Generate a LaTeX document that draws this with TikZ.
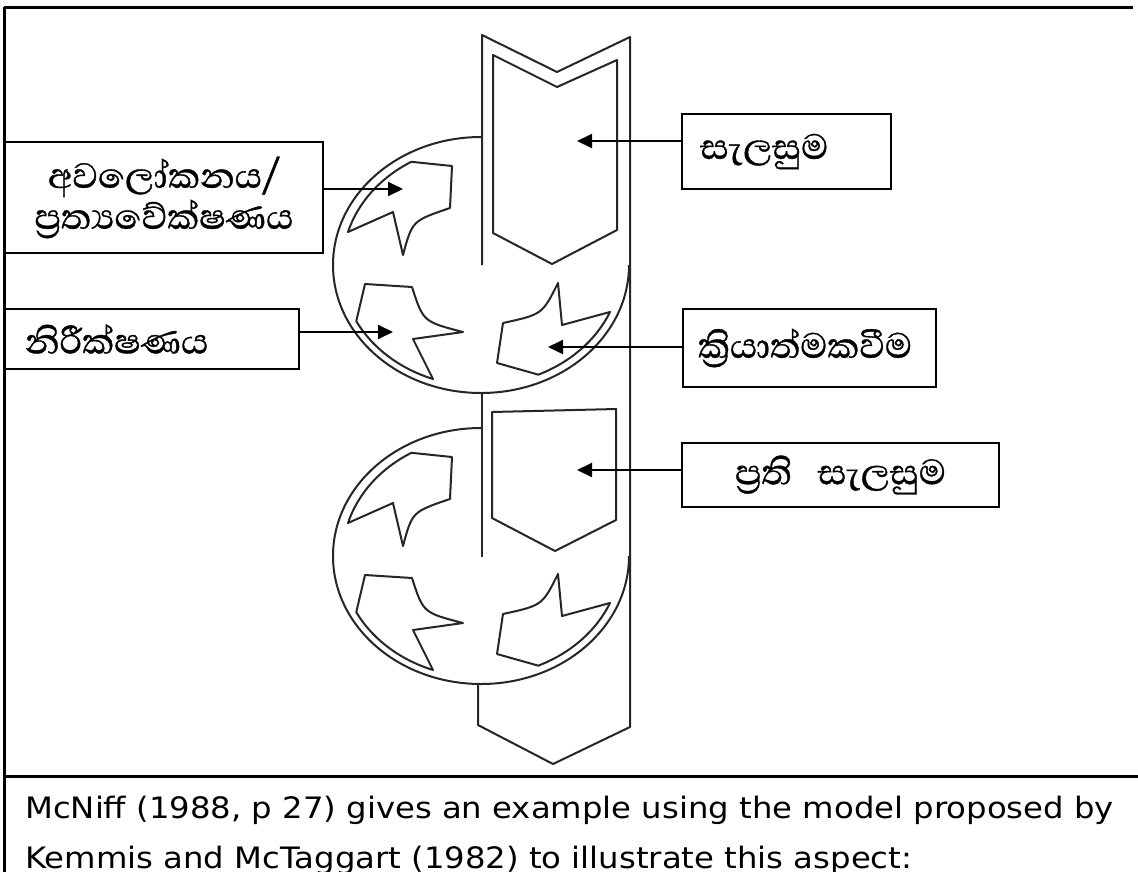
\documentclass[tikz,border=0pt]{standalone}
\usepackage{fontspec}
\setmainfont{DejaVu Sans}
\newfontfamily\sinhfont[Script=Sinhala, FakeBold=0.8]{Abhaya Libre}
\newfontfamily\capfont[FakeStretch=1.095]{DejaVu Sans}
\usetikzlibrary{arrows.meta,calc}
\begin{document}
\begin{tikzpicture}[x=1pt,y=-1pt,
  frameline/.style={line width=3pt, black},
  sketch/.style={line width=2pt, draw=black!85, line join=round},
  lbox/.style={draw, line width=2pt, rectangle, inner sep=0pt, anchor=north west,
     font=\sinhfont\fontsize{45}{41}\selectfont},
  conn/.style={line width=2pt, -{Triangle[length=15pt,width=14pt]}},
  captext/.style={anchor=base west, inner sep=0pt, font=\capfont\fontsize{29.5}{36}\selectfont},
  cyc/.pic={
    \draw[sketch] (0,-128) arc[start angle=270, end angle=0, x radius=148, y radius=128];
    \draw[sketch] (-31,-57) .. controls (-68.8,-44.2) .. (-78,-10) -- (-88,-53) -- (-133,-33)
       arc[start angle=196, end angle=239.4, x radius=140, y radius=120] -- (-29,-99) -- cycle;
    \draw[sketch] (-116,19) -- (-69,22) .. controls (-57.8,56.7) .. (-18,67) -- (-68,74) -- (-48,114)
       arc[start angle=109.9, end angle=152.7, x radius=140, y radius=120] -- cycle;
    \draw[sketch] (22,58) .. controls (61.3,49.4) .. (77,18) -- (81,60) -- (129,47)
       arc[start angle=23, end angle=65.9, x radius=140, y radius=120] -- (16,98) -- cycle;
  }
]
\useasboundingbox (0,0) rectangle (1138,871);
\fill[white] (0,0) rectangle (1138,871);
% frame
\draw[frameline] (4,7) -- (1133,7);
\draw[frameline] (4,7) -- (4,875);
\draw[frameline] (4,776) -- (1140,776);
% strip
\draw[sketch] (482,265) -- (482,35) -- (557,72) -- (630,37) -- (630,727) -- (553,764) -- (478,725) -- (478,685);
\draw[sketch] (482,393) -- (482,557);
\draw[sketch] (493,55) -- (557,87) -- (617,60) -- (617,230) -- (552,264) -- (493,233) -- cycle;
\draw[sketch] (492,412) -- (616,409) -- (616,520) -- (555,551) -- (492,518) -- cycle;
% cycles
\pic at (481,265) {cyc};
\pic at (481,556) {cyc};
% boxes
\node[lbox, minimum width=209pt, minimum height=75pt, text width=173pt, inner xsep=18pt, align=left] (plan) at (681,113) {සැලසුම};
\node[lbox, minimum width=318pt, minimum height=111pt, align=center] (refl) at (4,141)
  {අවලෝකනය/\\ප්^^^^200dරත්^^^^200dයවේක්ෂණය};
\node[lbox, minimum width=294pt, minimum height=60pt, text width=254pt, inner xsep=20pt, align=left] (obs) at (4,308) {නිරීක්ෂණය};
\node[lbox, minimum width=253pt, minimum height=78pt, text width=223pt, inner xsep=15pt, align=left] (act) at (682,308) {ක්^^^^200dරියාත්මකවීම};
\node[lbox, minimum width=317pt, minimum height=64pt] (replan) at (681,442) {ප්^^^^200dරති\hspace{26pt}සැලසුම};
% arrow tips
\coordinate (tplan) at (577,141);
\coordinate (trefl) at (403,189);
\coordinate (tobs) at (393,332);
\coordinate (tact) at (548,347);
\coordinate (treplan) at (577,470);
\draw[conn] (tplan -| plan.west) -- (tplan);
\draw[conn] (trefl -| refl.east) -- (trefl);
\draw[conn] (tobs -| obs.east) -- (tobs);
\draw[conn] (tact -| act.west) -- (tact);
\draw[conn] (treplan -| replan.west) -- (treplan);
% caption
\node[captext] (cap1) at (25,818)
  {McNiff (1988, p 27) gives an example using the model proposed by};
\node[captext] (cap2) at (25,868)
  {Kemmis and McTaggart (1982) to illustrate this aspect:};
\end{tikzpicture}
\end{document}
